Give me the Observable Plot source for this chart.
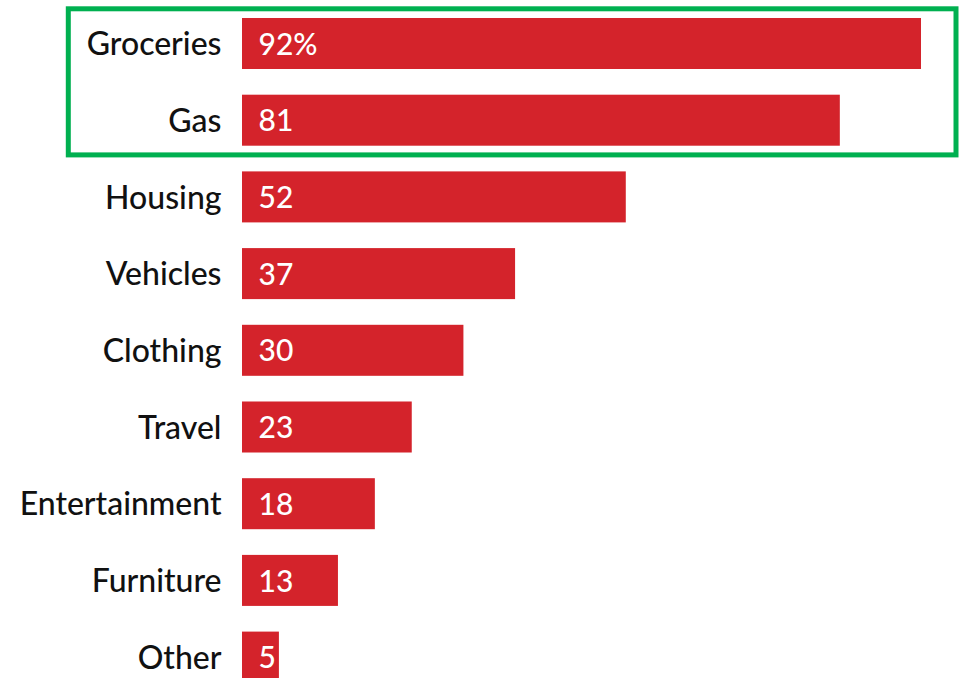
<!DOCTYPE html>
<html>
<head>
<meta charset="utf-8">
<script src="https://cdn.jsdelivr.net/npm/d3@7"></script>
<script src="https://cdn.jsdelivr.net/npm/@observablehq/plot@0.6"></script>
<style>
  html, body { margin: 0; padding: 0; background: #fff; }
  #wrap { width: 961px; height: 678px; overflow: hidden; }
</style>
</head>
<body>
<div id="wrap"></div>
<script>
const categories = ["Groceries", "Gas", "Housing", "Vehicles", "Clothing", "Travel", "Entertainment", "Furniture", "Other"];
const values = [92, 81, 52, 37, 30, 23, 18, 13, 5];
const valueLabels = ["92%", "81", "52", "37", "30", "23", "18", "13", "5"];
const highlighted = ["Groceries", "Gas"];

const data = categories.map((c, i) => ({category: c, value: values[i], label: valueLabels[i]}));

const FONT = "Lato, 'Noto Sans', sans-serif";
const RED = "#d4232b";
const GREEN = "#00b050";

const plot = Plot.plot({
  width: 961,
  height: 678,
  marginLeft: 242,
  marginRight: 40,
  marginTop: 0,
  marginBottom: 0,
  style: {fontFamily: FONT, background: "#fff", overflow: "hidden"},
  x: {domain: [0, 92], axis: null},
  y: {domain: categories, range: [-7.7, 708.3], paddingInner: 0.335, paddingOuter: 0.335, round: false, axis: null},
  marks: [
    Plot.barX(data, {y: "category", x: "value", fill: RED}),
    Plot.text(data, {y: "category", x: 0, text: "category", textAnchor: "end", dx: -21, dy: 1,
      fontSize: 32, fontWeight: 500, fill: "#111"}),
    Plot.text(data, {y: "category", x: 0, text: "label", textAnchor: "start", dx: 16, dy: 1,
      fontSize: 30, fontWeight: 500, fill: "#fff"})
  ]
});

// green highlight box around the highlighted categories, positioned from the y scale
const ys = plot.scale("y");
const bw = ys.bandwidth;
const first = ys.apply(highlighted[0]);
const last = ys.apply(highlighted[highlighted.length - 1]);
const pad = 9.2;
d3.select(plot).append("rect")
  .attr("x", 68.3)
  .attr("y", first - pad)
  .attr("width", 956 - 68.3)
  .attr("height", (last + bw + pad) - (first - pad))
  .attr("fill", "none")
  .attr("stroke", GREEN)
  .attr("stroke-width", 5);

document.getElementById("wrap").appendChild(plot);
</script>
</body>
</html>
